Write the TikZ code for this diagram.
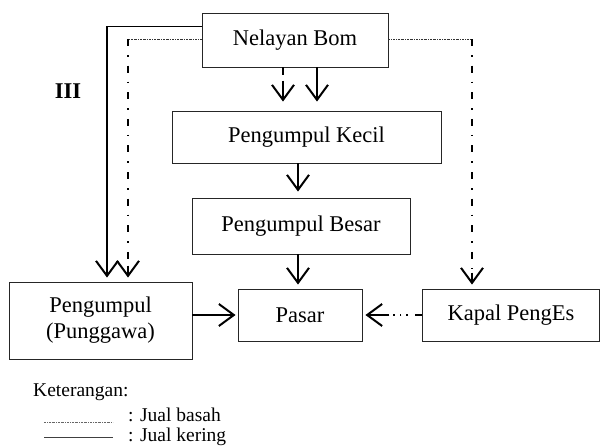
\documentclass[tikz,border=0pt]{standalone}
\usepackage{fontspec}
\setmainfont{Liberation Serif}
\usetikzlibrary{arrows.meta}
\begin{document}
\begin{tikzpicture}[x=1pt,y=-1pt,
  box/.style={draw=black!85,line width=0.9pt,inner sep=0pt,font=\fontsize{22.5}{26}\selectfont,align=center},
  tip/.style={-{Straight Barb[length=15pt,width=22pt,line width=2pt]}},
  arr/.style={line width=2pt,tip,shorten >=4pt},
  dd/.style={line width=2pt,dash pattern=on 7pt off 9pt on 1.6pt off 9pt},
  fine/.style={line width=0.7pt,dash pattern=on 2pt off 1pt on 0.6pt off 1pt,draw=black!80},
  thin/.style={line width=1pt}]
\useasboundingbox (0,0) rectangle (601,445);
\node[box,minimum width=186pt,minimum height=54pt] (nel) at (295,40) {Nelayan Bom};
\node[box,minimum width=269pt,minimum height=52pt] (kec) at (306.5,137) {Pengumpul Kecil};
\node[box,minimum width=218pt,minimum height=56pt] (bes) at (301,226) {Pengumpul Besar};
\node[box,minimum width=183pt,minimum height=77pt] (pgw) at (100.5,320.5) {Pengumpul\\(Punggawa)};
\node[box,minimum width=124pt,minimum height=52pt] (pas) at (300,315) {Pasar};
\node[box,minimum width=177pt,minimum height=52pt] (kap) at (511,315) {Kapal PengEs};
\node[font=\bfseries\fontsize{22.5}{26}\selectfont] (iii) at (68,91) {III};
% corner coordinates
\coordinate (s1) at (nel.west |- 0,26);
\coordinate (s2) at (107,26);
\coordinate (d1) at (nel.west |- 0,39);
\coordinate (d2) at (128,39);
\coordinate (r1) at (nel.east |- 0,39);
\coordinate (r2) at (472,39);
% solid to Punggawa
\draw[thin] (s1) -- (s2);
\draw[arr] (s2) -- (pgw.north -| s2);
% dash-dot to Punggawa
\draw[fine] (d1) -- (d2);
\draw[dd] (d2) -- ([yshift=14pt]pgw.north -| d2);
\draw[arr] ([yshift=16pt]pgw.north -| d2) -- (pgw.north -| d2);
% dash-dot to Kapal
\draw[fine] (r1) -- (r2);
\draw[dd] (r2) -- ([yshift=14pt]kap.north -| r2);
\draw[arr] ([yshift=16pt]kap.north -| r2) -- (kap.north -| r2);
% Nelayan to Kecil
\coordinate (na) at (283,0);
\coordinate (nb) at (317,0);
\draw[line width=2pt] (nel.south -| na) -- ([yshift=36pt]kec.north -| na);
\draw[arr,shorten >=9pt] ([yshift=30pt]kec.north -| na) -- (kec.north -| na);
\draw[arr,shorten >=9pt] (nel.south -| nb) -- (kec.north -| nb);
% chain
\coordinate (ca) at (298,0);
\draw[arr,shorten >=6pt] (kec.south -| ca) -- (bes.north -| ca);
\draw[arr] (bes.south -| ca) -- (pas.north -| ca);
\draw[arr,shorten >=2pt] (pgw.east |- pas) -- (pas.west);
\draw[line width=2pt,dash pattern=on 7pt off 7pt on 1.6pt off 5pt on 1.6pt off 5pt] (kap.west) -- ([xshift=31pt]pas.east);
\draw[arr,shorten >=3pt] ([xshift=27pt]pas.east) -- (pas.east);
% legend
\node[anchor=base west,inner sep=0pt,font=\fontsize{19.5}{22}\selectfont] (ket) at (33,396) {Keterangan:};
\coordinate (l1a) at (44,422);
\coordinate (l1b) at (113,422);
\coordinate (l2a) at (44,437);
\coordinate (l2b) at (113,437);
\draw[line width=0.8pt,draw=black!60,dash pattern=on 2pt off 1pt on 0.6pt off 1pt] (l1a) -- (l1b);
\draw[line width=1pt,draw=black!75] (l2a) -- (l2b);
\node[anchor=base west,inner sep=0pt,font=\fontsize{19.5}{22}\selectfont] (jb) at (128,421) {: Jual basah};
\node[anchor=base west,inner sep=0pt,font=\fontsize{19.5}{22}\selectfont] (jk) at (128,441) {: Jual kering};
\end{tikzpicture}
\end{document}
